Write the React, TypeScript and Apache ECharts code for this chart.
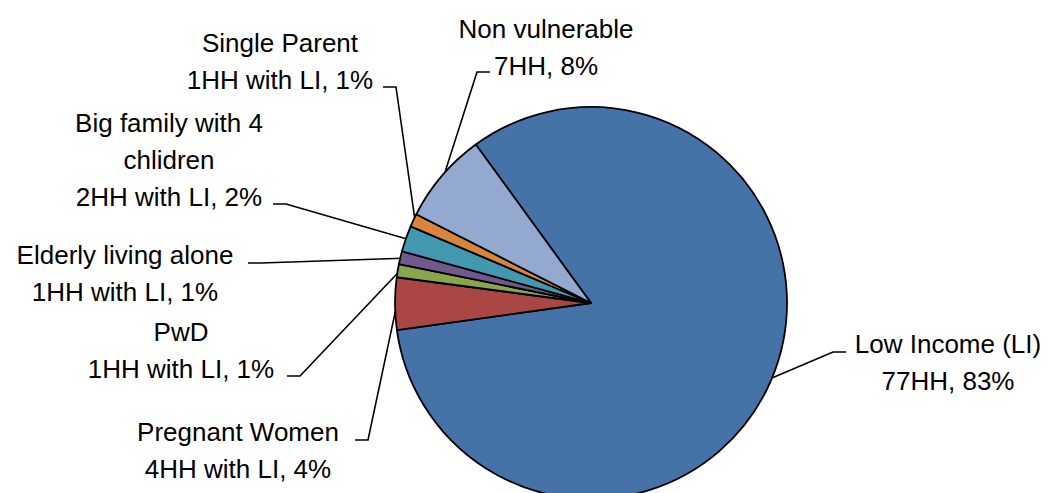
import React, { useEffect, useRef } from "react";
import * as echarts from "echarts";

// ---- data ----
const categories: string[] = [
  "Low Income (LI)",
  "Pregnant Women",
  "PwD",
  "Elderly living alone",
  "Big family with 4\nchlidren",
  "Single Parent",
  "Non vulnerable",
];
const households: number[] = [77, 4, 1, 1, 2, 1, 7];
const countSuffixes: string[] = [
  "HH",
  "HH with LI",
  "HH with LI",
  "HH with LI",
  "HH with LI",
  "HH with LI",
  "HH",
];
const sliceColors: string[] = [
  "#4572A7",
  "#AA4643",
  "#89A54E",
  "#71588F",
  "#4198AF",
  "#DB843D",
  "#93A9CF",
];

// ---- layout (positions of labels / leader attach points) ----
const CX = 591;
const CY = 303;
const R = 196;
const START = 126;
const labelSpots = [
  { x: 948, y: 325, ax: 846, ay: 352 },
  { x: 238, y: 413, ax: 355, ay: 440 },
  { x: 181, y: 313, ax: 287, ay: 376 },
  { x: 125, y: 236.5, ax: 248, ay: 263 },
  { x: 169, y: 104.5, ax: 273, ay: 204 },
  { x: 280, y: 24, ax: 383, ay: 87 },
  { x: 546, y: 10, ax: 490, ay: 72 },
];

export default function App() {
  const ref = useRef<HTMLDivElement>(null);
  useEffect(() => {
    if (!ref.current) return;
    const chart = echarts.init(ref.current, null, { renderer: "svg" });
    const total = households.reduce((a, b) => a + b, 0);
    const midAngles: number[] = [];
    let cum = 0;
    households.forEach((v) => {
      midAngles.push(START - ((cum + v / 2) / total) * 360);
      cum += v;
    });
    chart.setOption({
      animation: false,
      backgroundColor: "#ffffff",
      series: [
        {
          type: "pie",
          center: [CX, CY],
          radius: R,
          startAngle: START,
          clockwise: true,
          avoidLabelOverlap: false,
          data: categories.map((name, i) => ({
            name,
            value: households[i],
            itemStyle: { color: sliceColors[i] },
          })),
          itemStyle: { borderColor: "#000000", borderWidth: 1.8 },
          label: {
            show: true,
            position: "outside",
            color: "#000000",
            fontFamily: "Liberation Sans",
            fontSize: 26,
            lineHeight: 37,
            align: "center",
            formatter: (p: any) =>
              `${p.name}\n${p.value}${countSuffixes[p.dataIndex]}, ${Math.round(p.percent)}%`,
          },
          labelLine: {
            show: true,
            lineStyle: { color: "#000000", width: 1.6 },
          },
          labelLayout: (params: any) => {
            const i = params.dataIndex;
            const s = labelSpots[i];
            const a = (midAngles[i] * Math.PI) / 180;
            const ex = CX + (R - 2) * Math.cos(a);
            const ey = CY - (R - 2) * Math.sin(a);
            const dir = ex > s.ax ? 1 : -1;
            return {
              x: s.x,
              y: s.y,
              align: "center",
              verticalAlign: "top",
              labelLinePoints: [
                [s.ax, s.ay],
                [s.ax + dir * 13, s.ay],
                [ex, ey],
              ],
            };
          },
        },
      ],
    });
    return () => chart.dispose();
  }, []);
  return (
    <div
      ref={ref}
      style={{ position: "fixed", left: 0, top: 0, width: 1048, height: 493 }}
    />
  );
}
